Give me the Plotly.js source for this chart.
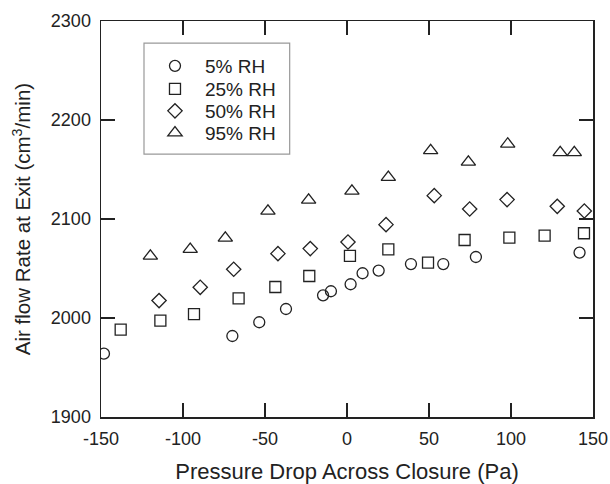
<!DOCTYPE html>
<html>
<head>
<meta charset="utf-8">
<script src="https://cdn.plot.ly/plotly-3.0.1.min.js"></script>
<style>html,body{margin:0;padding:0;background:#fff;}#chart{width:610px;height:484px;}</style>
</head>
<body>
<div id="chart"></div>
<script>
// 5% RH
const rh5_x = [-148.2, -69.9, -53.5, -37.2, -14.6, -9.8, 2.2, 9.5, 19.3, 39.0, 58.7, 78.6, 141.8];
const rh5_y = [1964.0, 1981.8, 1995.7, 2009.1, 2022.9, 2027.0, 2034.1, 2045.2, 2047.9, 2054.5, 2054.5, 2061.6, 2066.1];
// 25% RH
const rh25_x = [-138.0, -113.8, -93.3, -66.1, -43.7, -23.0, 1.8, 25.2, 49.4, 71.7, 99.0, 120.5, 144.5];
const rh25_y = [1988.3, 1997.4, 2004.0, 2019.9, 2031.3, 2042.4, 2062.8, 2069.4, 2056.0, 2078.8, 2081.2, 2083.2, 2085.6];
// 50% RH
const rh50_x = [-114.6, -89.5, -69.1, -42.1, -22.4, 0.6, 23.8, 53.2, 74.8, 97.6, 128.2, 144.7];
const rh50_y = [2017.6, 2031.0, 2049.2, 2065.0, 2070.1, 2076.8, 2094.3, 2123.6, 2110.1, 2119.6, 2112.8, 2108.1];
// 95% RH
const rh95_x = [-119.9, -95.6, -74.2, -48.2, -23.4, 3.0, 25.2, 51.0, 74.0, 98.0, 130.0, 138.6];
const rh95_y = [2062.6, 2069.4, 2080.8, 2108.1, 2119.2, 2128.3, 2142.1, 2169.1, 2157.6, 2175.8, 2167.1, 2167.1];

const seriesNames = ['5% RH', '25% RH', '50% RH', '95% RH'];
const xTicks = [-150, -100, -50, 0, 50, 100, 150];
const yTicks = [1900, 2000, 2100, 2200, 2300];

const ink = '#222';
const fontFam = '"Liberation Sans", Arial, sans-serif';
function mk(sym, size) {
  return {symbol: sym, size: size, color: ink, line: {color: ink, width: 1.3}};
}
const traces = [
  {x: rh5_x, y: rh5_y, name: seriesNames[0], mode: 'markers', type: 'scatter', marker: mk('circle-open', 11), legend: 'legend'},
  {x: rh25_x, y: rh25_y, name: seriesNames[1], mode: 'markers', type: 'scatter', marker: mk('square-open', 11), legend: 'legend2'},
  {x: rh50_x, y: rh50_y, name: seriesNames[2], mode: 'markers', type: 'scatter', marker: mk('diamond-open', 11), legend: 'legend3'},
  {x: rh95_x, y: rh95_y, name: seriesNames[3], mode: 'markers', type: 'scatter', marker: mk('triangle-up-open', 12.5), legend: 'legend4'}
];
const axisCommon = {
  showline: true, linecolor: ink, linewidth: 1.5, mirror: 'ticks',
  ticks: 'inside', ticklen: 14, tickwidth: 1.5, tickcolor: ink,
  showgrid: false, zeroline: false,
  tickfont: {family: fontFam, size: 18, color: ink}
};
function leg(yPaper) {
  return {
    x: 0.0894, y: yPaper, xanchor: 'left', yanchor: 'middle',
    bgcolor: 'rgba(0,0,0,0)', borderwidth: 0, itemwidth: 50,
    font: {family: fontFam, size: 19, color: ink}
  };
}
const layout = {
  width: 610, height: 484,
  margin: {l: 101, r: 17, t: 21, b: 67},
  paper_bgcolor: '#fff', plot_bgcolor: '#fff',
  font: {family: fontFam, color: ink},
  showlegend: true,
  legend: leg(0.8864),
  legend2: leg(0.8283),
  legend3: leg(0.7727),
  legend4: leg(0.7172),
  shapes: [{
    type: 'rect', xref: 'paper', yref: 'paper',
    x0: 0.0874, x1: 0.3835, y0: 0.664, y1: 0.944,
    line: {color: '#999', width: 1.2}, fillcolor: 'rgba(0,0,0,0)', layer: 'below'
  }],
  xaxis: Object.assign({}, axisCommon, {
    range: [-150, 150], tickvals: xTicks, ticktext: xTicks.map(String),
    ticklabelstandoff: 5,
    title: {text: 'Pressure Drop Across Closure (Pa)', font: {family: fontFam, size: 22, color: ink}, standoff: 15}
  }),
  yaxis: Object.assign({}, axisCommon, {
    range: [1900, 2300], tickvals: yTicks, ticktext: yTicks.map(String),
    ticklabelstandoff: 5,
    title: {text: 'Air flow Rate at Exit (cm<sup>3</sup>/min)', font: {family: fontFam, size: 20.5, color: ink}, standoff: 14}
  })
};
Plotly.newPlot('chart', traces, layout, {displayModeBar: false, staticPlot: true});
</script>
</body>
</html>
